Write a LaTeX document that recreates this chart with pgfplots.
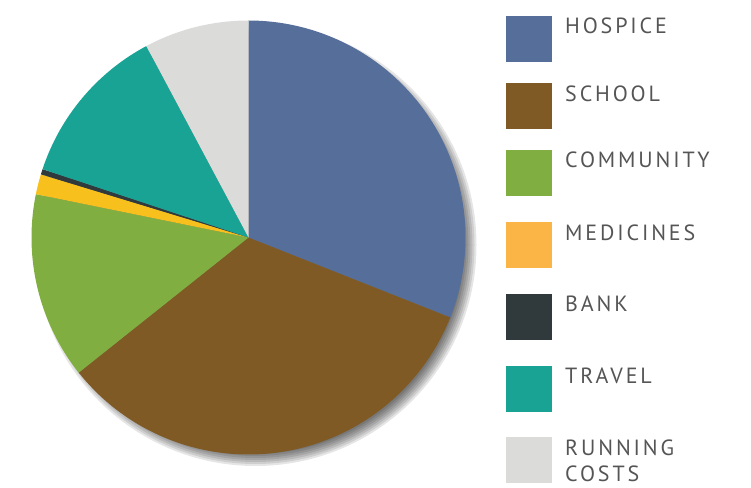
\documentclass[border=0pt]{standalone}
\usepackage{fontspec}
\setmainfont{PT Sans}
\usepackage{pgfplots}
\pgfplotsset{compat=1.18}
\definecolor{hospice}{HTML}{566E9A}
\definecolor{school}{HTML}{7F5A24}
\definecolor{community}{HTML}{80AE40}
\definecolor{medicines}{HTML}{FBB546}
\definecolor{medpie}{HTML}{F8C01C}
\definecolor{bank}{HTML}{30393B}
\definecolor{travel}{HTML}{18A394}
\definecolor{running}{HTML}{DBDBDA}
\definecolor{labelgray}{HTML}{555555}
% slice(color, start share %, end share %), clockwise from the top
\newcommand{\slice}[3]{%
  \pgfmathsetmacro{\angA}{90-3.6*#3}%
  \pgfmathsetmacro{\angB}{90-3.6*#2}%
  \addplot[fill=#1, draw=none, domain=\angA:\angB, samples=80]
    ({cos(x)},{sin(x)}) -- (axis cs:0,0) -- cycle;
}
\begin{document}
\begin{tikzpicture}[x=1pt,y=1pt]
\useasboundingbox (0,0) rectangle (751,487);
% soft drop shadow
\foreach \r in {221,219,217,215,213,211,209}{
  \fill[black, opacity=0.1] (255.5,242) circle[radius=\r pt];
}
\begin{axis}[
  at={(248.5pt,249.5pt)}, anchor=center,
  scale only axis, width=434pt, height=434pt,
  xmin=-1, xmax=1, ymin=-1, ymax=1,
  hide axis, clip=false]
% shares in percent (cumulative bounds)
\slice{hospice}{0}{31.0}
\slice{school}{31.0}{64.3}
\slice{community}{64.3}{78.2}
\slice{medpie}{78.2}{79.7}
\slice{bank}{79.7}{80.1}
\slice{travel}{80.1}{92.2}
\slice{running}{92.2}{100}
\end{axis}
% legend
\begin{scope}[every node/.style={font=\fontsize{22}{28}\selectfont\addfontfeature{LetterSpace=13}, text=labelgray, inner sep=0pt, anchor=base west, align=left}]
\fill[hospice]   (506,425) rectangle (552,471);
\node at (565,453) {HOSPICE};
\fill[school]    (506,358) rectangle (552,404);
\node at (565,385) {SCHOOL};
\fill[community] (506,291) rectangle (552,337);
\node at (565,319) {COMMUNITY};
\fill[medicines] (506,219) rectangle (552,265);
\node at (565,246) {MEDICINES};
\fill[bank]      (506,147) rectangle (552,193);
\node at (565,175) {BANK};
\fill[travel]    (506,75) rectangle (552,121);
\node at (565,103) {TRAVEL};
\fill[running]   (506,4) rectangle (552,50);
\node at (565,32) {RUNNING};
\node at (565,5.5) {COSTS};
\end{scope}
\end{tikzpicture}
\end{document}
